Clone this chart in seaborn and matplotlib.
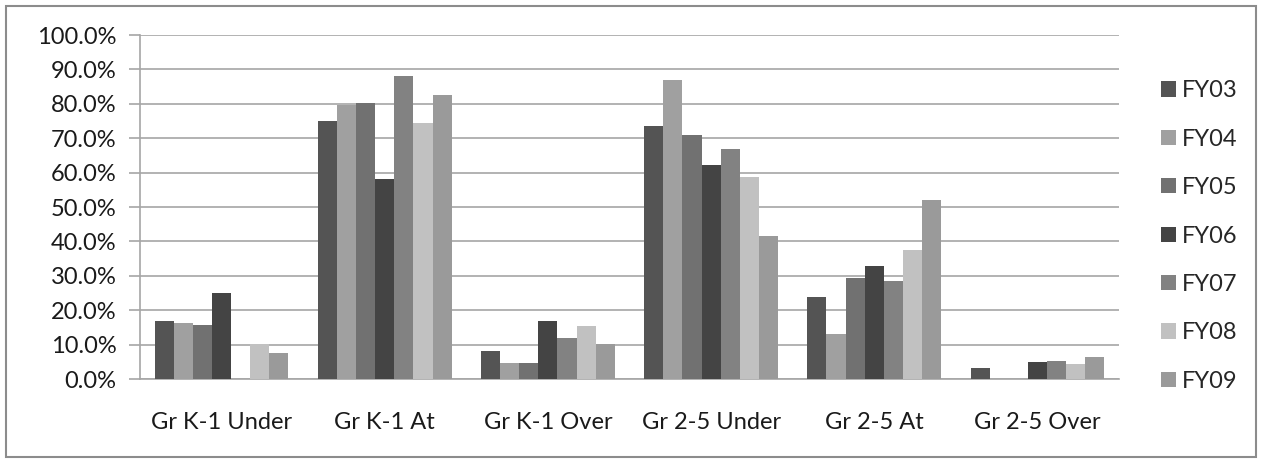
import numpy as np
import pandas as pd
import seaborn as sns
import matplotlib
matplotlib.use("Agg")
import matplotlib.pyplot as plt
from matplotlib.patches import Rectangle
from matplotlib.ticker import FixedLocator, FuncFormatter

# Share of students by grade band and placement, per fiscal year (percent)
categories = ["Gr K-1 Under", "Gr K-1 At", "Gr K-1 Over",
              "Gr 2-5 Under", "Gr 2-5 At", "Gr 2-5 Over"]
years = ["FY03", "FY04", "FY05", "FY06", "FY07", "FY08", "FY09"]
fy03 = [16.9, 75.0, 8.2, 73.5, 23.7, 3.1]
fy04 = [16.2, 79.6, 4.6, 87.0, 13.2, 0.0]
fy05 = [15.8, 80.1, 4.6, 70.9, 29.3, 0.0]
fy06 = [25.1, 58.1, 16.9, 62.3, 32.9, 4.9]
fy07 = [0.0, 88.1, 12.0, 66.9, 28.4, 5.3]
fy08 = [10.1, 74.3, 15.4, 58.6, 37.5, 4.3]
fy09 = [7.6, 82.5, 10.1, 41.5, 51.9, 6.4]
y_ticks = [0, 10, 20, 30, 40, 50, 60, 70, 80, 90, 100]

series = [fy03, fy04, fy05, fy06, fy07, fy08, fy09]
df = pd.DataFrame(
    [(cat, yr, val) for yr, vals in zip(years, series) for cat, val in zip(categories, vals)],
    columns=["category", "year", "value"],
)

palette = ["#545454", "#a0a0a0", "#717171", "#444444", "#828282", "#c1c1c1", "#9a9a9a"]

sns.set_theme(style="white")
plt.rcParams["font.family"] = ["Lato", "DejaVu Sans"]
FS = 17
grid_c = "#a6a6a6"

W, H = 1262, 462
fig = plt.figure(figsize=(W / 100, H / 100), dpi=100)
ax = fig.add_axes([140 / W, (H - 379) / H, 979 / W, 344 / H])

sns.barplot(data=df, x="category", y="value", hue="year", order=categories,
            hue_order=years, palette=palette, width=0.82, saturation=1,
            linewidth=0, errorbar=None, ax=ax, legend=True, zorder=3)

ax.set_ylim(0, 100)
ax.set_xlim(-0.5, len(categories) - 0.5)
ax.yaxis.set_major_locator(FixedLocator(y_ticks))
ax.yaxis.set_major_formatter(FuncFormatter(lambda v, p: f"{v:.1f}%"))
ax.grid(axis="y", color=grid_c, linewidth=1.2, zorder=0)
ax.set_axisbelow(True)
ax.set_xlabel("")
ax.set_ylabel("")

# category separators as minor ticks on the x axis
ax.xaxis.set_minor_locator(FixedLocator(np.arange(-0.5, len(categories), 1.0)))
ax.tick_params(axis="x", which="major", length=0, pad=24, labelsize=FS, colors="#1a1a1a")
ax.tick_params(axis="x", which="minor", length=8, width=1.2, color=grid_c, direction="out")
ax.tick_params(axis="y", length=8, width=1.2, color=grid_c, pad=9, labelsize=FS,
               colors="#1a1a1a", direction="out", left=True)
for lbl in ax.get_xticklabels() + ax.get_yticklabels():
    lbl.set_color("#1a1a1a")

for s in ["top", "right"]:
    ax.spines[s].set_visible(False)
for s in ["left", "bottom"]:
    ax.spines[s].set_color(grid_c)
    ax.spines[s].set_linewidth(1.2)

handles, labels = ax.get_legend_handles_labels()
ax.get_legend().remove()
fig.legend(handles, labels, loc="center left", bbox_to_anchor=(1161 / W, 1 - 236 / H),
           frameon=False, fontsize=FS, handlelength=0.62, handleheight=0.62,
           handletextpad=0.28, labelspacing=1.16, borderpad=0, borderaxespad=0)

# outer chart frame
fig.add_artist(Rectangle((5.5 / W, 5.5 / H), (W - 12) / W, (H - 11) / H,
                         transform=fig.transFigure, fill=False,
                         edgecolor="#8c8c8c", linewidth=1.5))

fig.savefig("out.png", dpi=100)
